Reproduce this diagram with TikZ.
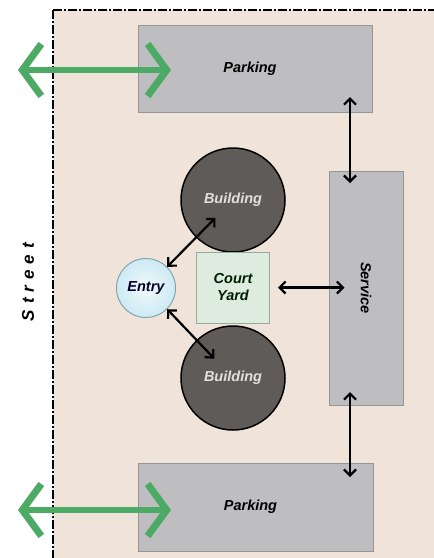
\documentclass[tikz,border=0pt]{standalone}
\usepackage{fontspec}
\setmainfont{Liberation Sans}
\usetikzlibrary{arrows.meta,calc}
\definecolor{bg}{RGB}{240,228,218}
\definecolor{parkfill}{RGB}{190,190,192}
\definecolor{parkline}{RGB}{150,150,150}
\definecolor{bldfill}{RGB}{95,91,89}
\definecolor{courtfill}{RGB}{221,236,223}
\definecolor{courtline}{RGB}{150,172,155}
\definecolor{entryfill}{RGB}{205,234,243}
\definecolor{entryline}{RGB}{130,165,175}
\definecolor{arrowgreen}{RGB}{76,170,100}
\tikzset{
  lbl/.style={font=\fontsize{14.5}{17}\selectfont\bfseries\itshape},
  graybox/.style={draw=parkline, line width=1pt, fill=parkfill, inner sep=0pt, lbl},
  bldg/.style={circle, draw=black, line width=1.5pt, fill=bldfill, minimum size=104pt, inner sep=0pt, lbl, text=white!88!black},
  courtbox/.style={draw=courtline, line width=1pt, fill=courtfill, minimum width=73pt, minimum height=71pt, inner sep=0pt, lbl, text=black!80!green!60!black, align=center},
  entrynode/.style={circle, draw=entryline, line width=1pt, inner color=white!70!entryfill, outer color=entryfill, minimum size=59pt, inner sep=0pt, lbl, text=black!85!blue},
  blk/.style={draw=black, line width=2.2pt, {Straight Barb[length=6pt,width=12pt]}-{Straight Barb[length=6pt,width=12pt]}},
  grn/.style={draw=arrowgreen, line width=5.5pt, {Straight Barb[length=19pt,width=52pt,line width=7pt]}-{Straight Barb[length=19pt,width=52pt,line width=7pt]}},
  border/.style={draw=black, line width=1.6pt, dash pattern=on 9pt off 2pt on 2pt off 2pt},
}
\begin{document}
\begin{tikzpicture}[x=1pt,y=-1pt]
\useasboundingbox (0,0) rectangle (434,558);
\fill[white] (0,0) rectangle (434,558);
\fill[bg] (53,10) rectangle (434,558);
\draw[border] (53,10) -- (434,10);
\draw[border, line width=1.1pt] (53,10) -- (53,558);

\node[graybox, minimum width=234pt, minimum height=87pt] (parkT) at (255,68.5) {\hspace*{-10pt}Parking};
\node[graybox, minimum width=235pt, minimum height=88pt] (parkB) at (255.5,507) {\hspace*{-10pt}Parking};
\node[graybox, minimum width=74pt, minimum height=234pt] (service) at (366,288) {\rotatebox{-90}{Service}};

\node[bldg] (bldT) at (233,200) {Building};
\node[bldg] (bldB) at (233,378) {Building};
\node[courtbox] (court) at (233,287.5) {Court\\Yard};
\node[entrynode] (entry) at (146,288) {Entry};

\node[font=\fontsize{17}{18}\selectfont\bfseries\itshape, rotate=90] (street) at (28,282) {S\kern6pt t\kern6pt r\kern6pt e\kern6pt e\kern6pt t};

% green street access arrows
\coordinate (gTl) at (18,70);
\coordinate (gTr) at (171,70);
\coordinate (gBl) at (18,510);
\coordinate (gBr) at (171,510);
\draw[grn] (gTl) -- (gTr);
\draw[grn] (gBl) -- (gBr);

% black connectors
\coordinate (sT1) at (350,97);
\coordinate (sT2) at (350,183);
\coordinate (sB1) at (350,392);
\coordinate (sB2) at (350,477);
\draw[blk] (sT1) -- (sT2);
\draw[blk] (sB1) -- (sB2);
\draw[blk] (entry.45) -- ($(bldT.center)!25pt!(entry.center)$);
\draw[blk] (entry.-45) -- ($(bldB.center)!27pt!(entry.center)$);
\draw[blk] ([xshift=8pt]court.east) -- ([xshift=16pt]service.west |- court.east);
\end{tikzpicture}
\end{document}
